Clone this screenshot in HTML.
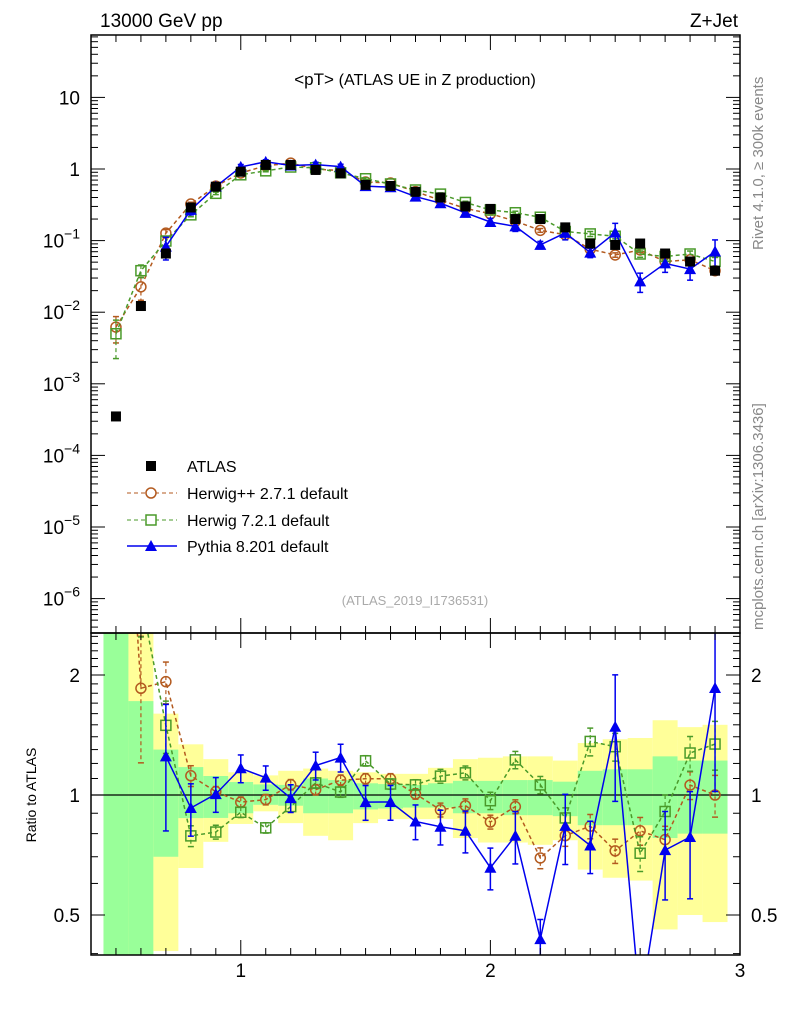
<!DOCTYPE html>
<html><head><meta charset="utf-8"><style>
body{margin:0;background:#fff;width:786px;height:1024px;overflow:hidden}
svg{display:block;font-family:"Liberation Sans",sans-serif}
</style></head><body>
<svg id="chart" width="786" height="1024" viewBox="0 0 786 1024" xmlns="http://www.w3.org/2000/svg">
<text x="100" y="27" font-size="19">13000 GeV pp</text>
<text x="738" y="27" font-size="19" text-anchor="end">Z+Jet</text>
<text x="415" y="85" font-size="17" text-anchor="middle">&lt;pT&gt; <tspan font-size="16">(ATLAS UE in Z production)</tspan></text>
<text transform="translate(763,250) rotate(-90)" font-size="15" fill="#888">Rivet 4.1.0, ≥ 300k events</text>
<text transform="translate(763,630) rotate(-90)" font-size="15" fill="#888">mcplots.cern.ch [arXiv:1306.3436]</text>
<text x="415" y="605" font-size="13" fill="#aaa" text-anchor="middle">(ATLAS_2019_I1736531)</text>
<text transform="translate(36,795) rotate(-90)" font-size="14" text-anchor="middle">Ratio to ATLAS</text>
<g id="bands"></g><g id="marks"></g><g id="axes"></g>
<g font-size="16">
<rect x="146" y="461" width="10" height="10" fill="#000"/>
<text x="187" y="472">ATLAS</text>
<line x1="127" y1="493" x2="177" y2="493" stroke="#b35a1f" stroke-dasharray="4,3"/>
<circle cx="151" cy="493" r="5" fill="#fff" stroke="#b35a1f" stroke-width="1.5"/>
<text x="187" y="499">Herwig++ 2.7.1 default</text>
<line x1="127" y1="520" x2="177" y2="520" stroke="#4a9a2a" stroke-dasharray="4,3"/>
<rect x="146" y="515" width="10" height="10" fill="#fff" stroke="#4a9a2a" stroke-width="1.5"/>
<text x="187" y="526">Herwig 7.2.1 default</text>
<line x1="127" y1="546" x2="177" y2="546" stroke="#0000ee" stroke-width="1.5"/>
<polygon points="151,540 157,551 145,551" fill="#0000ee"/>
<text x="187" y="552">Pythia 8.201 default</text>
</g>
</svg>
<script>
const xCenters=[0.5,0.6,0.7,0.8,0.9,1.0,1.1,1.2,1.3,1.4,1.5,1.6,1.7,1.8,1.9,2.0,2.1,2.2,2.3,2.4,2.5,2.6,2.7,2.8,2.9];
const atlas=[3.5e-4,0.0122,0.066,0.29,0.566,0.917,1.14,1.14,0.97,0.87,0.6,0.58,0.48,0.40,0.30,0.277,0.2,0.2,0.153,0.091,0.087,0.091,0.066,0.051,0.038];
const herwigpp=[0.0062,0.0226,0.127,0.324,0.577,0.88,1.11,1.21,1.0,0.948,0.659,0.637,0.483,0.367,0.282,0.237,0.187,0.139,0.121,0.076,0.063,0.074,0.051,0.054,0.038];
const herwig7=[0.005,0.038,0.0987,0.229,0.457,0.83,0.943,1.066,1.04,0.885,0.731,0.618,0.509,0.446,0.341,0.268,0.245,0.212,0.134,0.124,0.115,0.065,0.06,0.065,0.051];
const pythia=[null,null,0.0825,0.269,0.569,1.07,1.26,1.12,1.15,1.08,0.576,0.557,0.412,0.333,0.244,0.182,0.158,0.087,0.128,0.068,0.129,0.027,0.048,0.04,0.0705];
const herwigppErr=[0.4,0.35,0.12,0.06,0.03,0.03,0.03,0.03,0.03,0.03,0.03,0.03,0.03,0.04,0.04,0.04,0.04,0.06,0.06,0.07,0.07,0.08,0.08,0.08,0.12];
const herwig7Err=[0.55,0.2,0.15,0.06,0.04,0.03,0.03,0.03,0.03,0.03,0.03,0.03,0.03,0.04,0.04,0.05,0.05,0.05,0.06,0.08,0.08,0.10,0.10,0.10,0.14];
const pythiaErr=[0,0,0.35,0.15,0.1,0.08,0.07,0.08,0.08,0.08,0.1,0.1,0.1,0.1,0.12,0.12,0.15,0.12,0.2,0.15,0.35,0.3,0.25,0.3,0.45];
const statHi=[9,1.72,1.3,1.175,1.116,1.078,1.063,1.06,1.1,1.09,1.07,1.065,1.06,1.07,1.085,1.085,1.09,1.09,1.08,1.15,1.16,1.16,1.25,1.22,1.22];
const statLo=[0.01,0.01,0.70,0.875,0.876,0.90,0.945,0.94,0.9,0.9,0.92,0.925,0.93,0.93,0.90,0.90,0.89,0.89,0.885,0.84,0.84,0.84,0.78,0.80,0.80];
const totHi=[9,9,1.6,1.34,1.23,1.14,1.12,1.15,1.165,1.15,1.14,1.13,1.13,1.17,1.23,1.24,1.25,1.25,1.22,1.35,1.38,1.39,1.54,1.48,1.50];
const totLo=[0.01,0.01,0.406,0.656,0.763,0.846,0.91,0.85,0.79,0.77,0.85,0.87,0.87,0.87,0.78,0.76,0.76,0.75,0.77,0.65,0.62,0.61,0.46,0.50,0.48];
const mainYTicks=[10,1,0.1,0.01,0.001,1e-4,1e-5,1e-6];
const mainYLabels=["10","1","10^−1","10^−2","10^−3","10^−4","10^−5","10^−6"];
const ratioTicks=[0.5,1,2];
const xTicks=[1,2,3];

const NS="http://www.w3.org/2000/svg";
const L=91,R=740,MT=35,MB=633,RT=633,RB=955;
const X=v=>L+(v-0.4)/(3.0-0.4)*(R-L);
const Ym=v=>169-71.6*Math.log10(v);
const Yr=v=>795-120*Math.log2(v);
function mk(p,t,a){const e=document.createElementNS(NS,t);for(const k in a)e.setAttribute(k,a[k]);p.appendChild(e);return e;}
const bands=document.getElementById('bands'),marks=document.getElementById('marks'),axes=document.getElementById('axes');
const clampR=v=>Math.max(RT,Math.min(RB,v));
xCenters.forEach((c,i)=>{
 const x0=X(c-0.05),x1=X(c+0.05);
 let y=mk(bands,'rect',{x:x0,y:clampR(Yr(totHi[i])),width:x1-x0,height:clampR(Yr(totLo[i]))-clampR(Yr(totHi[i])),fill:'#ffff99'});
 
 
 let g=mk(bands,'rect',{x:x0,y:clampR(Yr(statHi[i])),width:x1-x0,height:clampR(Yr(statLo[i]))-clampR(Yr(statHi[i])),fill:'#99ff99'});
 
 
});
mk(bands,'line',{x1:L,x2:R,y1:Yr(1),y2:Yr(1),stroke:'#000','stroke-width':1.2});
const defs=mk(document.getElementById('chart'),'defs',{});
const c1=mk(defs,'clipPath',{id:'cm'});mk(c1,'rect',{x:L,y:MT,width:R-L,height:MB-MT});
const c2=mk(defs,'clipPath',{id:'cr'});mk(c2,'rect',{x:L,y:RT,width:R-L,height:RB-RT});
const gm=mk(marks,'g',{'clip-path':'url(#cm)'}),gr=mk(marks,'g',{'clip-path':'url(#cr)'});
const series=[
 {name:'herwigpp',vals:herwigpp,err:herwigppErr,col:'#b35a1f',dash:'4,3',m:'circle'},
 {name:'herwig7',vals:herwig7,err:herwig7Err,col:'#4a9a2a',dash:'4,3',m:'square'},
 {name:'pythia',vals:pythia,err:pythiaErr,col:'#0000ee',dash:null,m:'tri'}];
function marker(g,m,x,y,col){
 let e;
 if(m==='circle')e=mk(g,'circle',{cx:x,cy:y,r:5,fill:'none',stroke:col,'stroke-width':1.5});
 else if(m==='square')e=mk(g,'rect',{x:x-5,y:y-5,width:10,height:10,fill:'none',stroke:col,'stroke-width':1.5});
 else e=mk(g,'polygon',{points:`${x},${y-6} ${x+6},${y+5} ${x-6},${y+5}`,fill:col});
 return e;
}
series.forEach(s=>{
 [[gm,false],[gr,true]].forEach(([g,ratio])=>{
  let pts=[];
  xCenters.forEach((c,i)=>{
   const v=s.vals[i];if(v==null)return;
   const r=v/atlas[i];
   const yv=ratio?Yr(r):Ym(v);
   const e=s.err[i];
   const yHi=ratio?Yr(r*(1+e)):Ym(v*(1+e)),yLo=ratio?Yr(r*Math.max(0.05,1-e)):Ym(v*Math.max(0.05,1-e));
   const x=X(c);
   const eb=mk(g,'line',{x1:x,x2:x,y1:yHi,y2:yLo,stroke:s.col,'stroke-width':s.dash?1.2:1.5,'stroke-dasharray':s.dash||'none'});
   
   
   mk(g,'line',{x1:x-3,x2:x+3,y1:yHi,y2:yHi,stroke:s.col,'stroke-width':1.5});
   mk(g,'line',{x1:x-3,x2:x+3,y1:yLo,y2:yLo,stroke:s.col,'stroke-width':1.5});
   pts.push([x,yv]);
  });
  const pl=mk(g,'polyline',{points:pts.map(p=>p.join(',')).join(' '),fill:'none',stroke:s.col,'stroke-width':1.5,'stroke-dasharray':s.dash||'none'});
  
  
  pts.forEach(p=>{const e=marker(g,s.m,p[0],p[1],s.col);
   
   });
 });
});
xCenters.forEach((c,i)=>{
 const r=mk(gm,'rect',{x:X(c)-5,y:Ym(atlas[i])-5,width:10,height:10,fill:'#000'});
 
 
});
[[MT,MB],[RT,RB]].forEach(([t,b])=>{
 const f=mk(axes,'rect',{x:L,y:t,width:R-L,height:b-t,fill:'none',stroke:'#000','stroke-width':1.5});
 
 
 for(let k=4;k<=30;k++){const v=k/10,x=X(v),len=(k%10===0)?15:7;
  mk(axes,'line',{x1:x,x2:x,y1:b,y2:b-len,stroke:'#000'});
  mk(axes,'line',{x1:x,x2:x,y1:t,y2:t+len,stroke:'#000'});}
});
for(let d=-7;d<=1;d++){
 for(let m=1;m<=9;m++){const v=m*Math.pow(10,d),y=Ym(v);if(y<MT||y>MB)continue;
  const len=m===1?14:7;
  mk(axes,'line',{x1:L,x2:L+len,y1:y,y2:y,stroke:'#000'});
  mk(axes,'line',{x1:R,x2:R-len,y1:y,y2:y,stroke:'#000'});}
}
mainYTicks.forEach((v,i)=>{
 const y=Ym(v);const t=mk(axes,'text',{x:80,y:y+7,'font-size':19,'text-anchor':'end'});
 
 
 const lab=mainYLabels[i];
 if(lab.includes('^')){const [b,e]=lab.split('^');t.textContent=b;const ts=mk(t,'tspan',{dy:-9,'font-size':14});ts.textContent=e;}
 else t.textContent=lab;
});
[0.4,0.5,0.6,0.7,0.8,0.9,1,1.1,1.2,1.3,1.4,1.5,1.6,1.7,1.8,1.9,2,2.1,2.2,2.3,2.4,2.5].forEach(v=>{
 const y=Yr(v);if(y<RT||y>RB)return;const len=ratioTicks.includes(v)?14:7;
 mk(axes,'line',{x1:L,x2:L+len,y1:y,y2:y,stroke:'#000'});
 mk(axes,'line',{x1:R,x2:R-len,y1:y,y2:y,stroke:'#000'});
});
ratioTicks.forEach(v=>{
 [[80,'end'],[751,'start']].forEach(([x,a])=>{
  const t=mk(axes,'text',{x:x,y:Yr(v)+7,'font-size':19,'text-anchor':a});t.textContent=String(v);
  
  });
});
xTicks.forEach(v=>{
 const t=mk(axes,'text',{x:X(v),y:977,'font-size':19,'text-anchor':'middle'});t.textContent=String(v);
 
 
});
</script>
</body></html>
